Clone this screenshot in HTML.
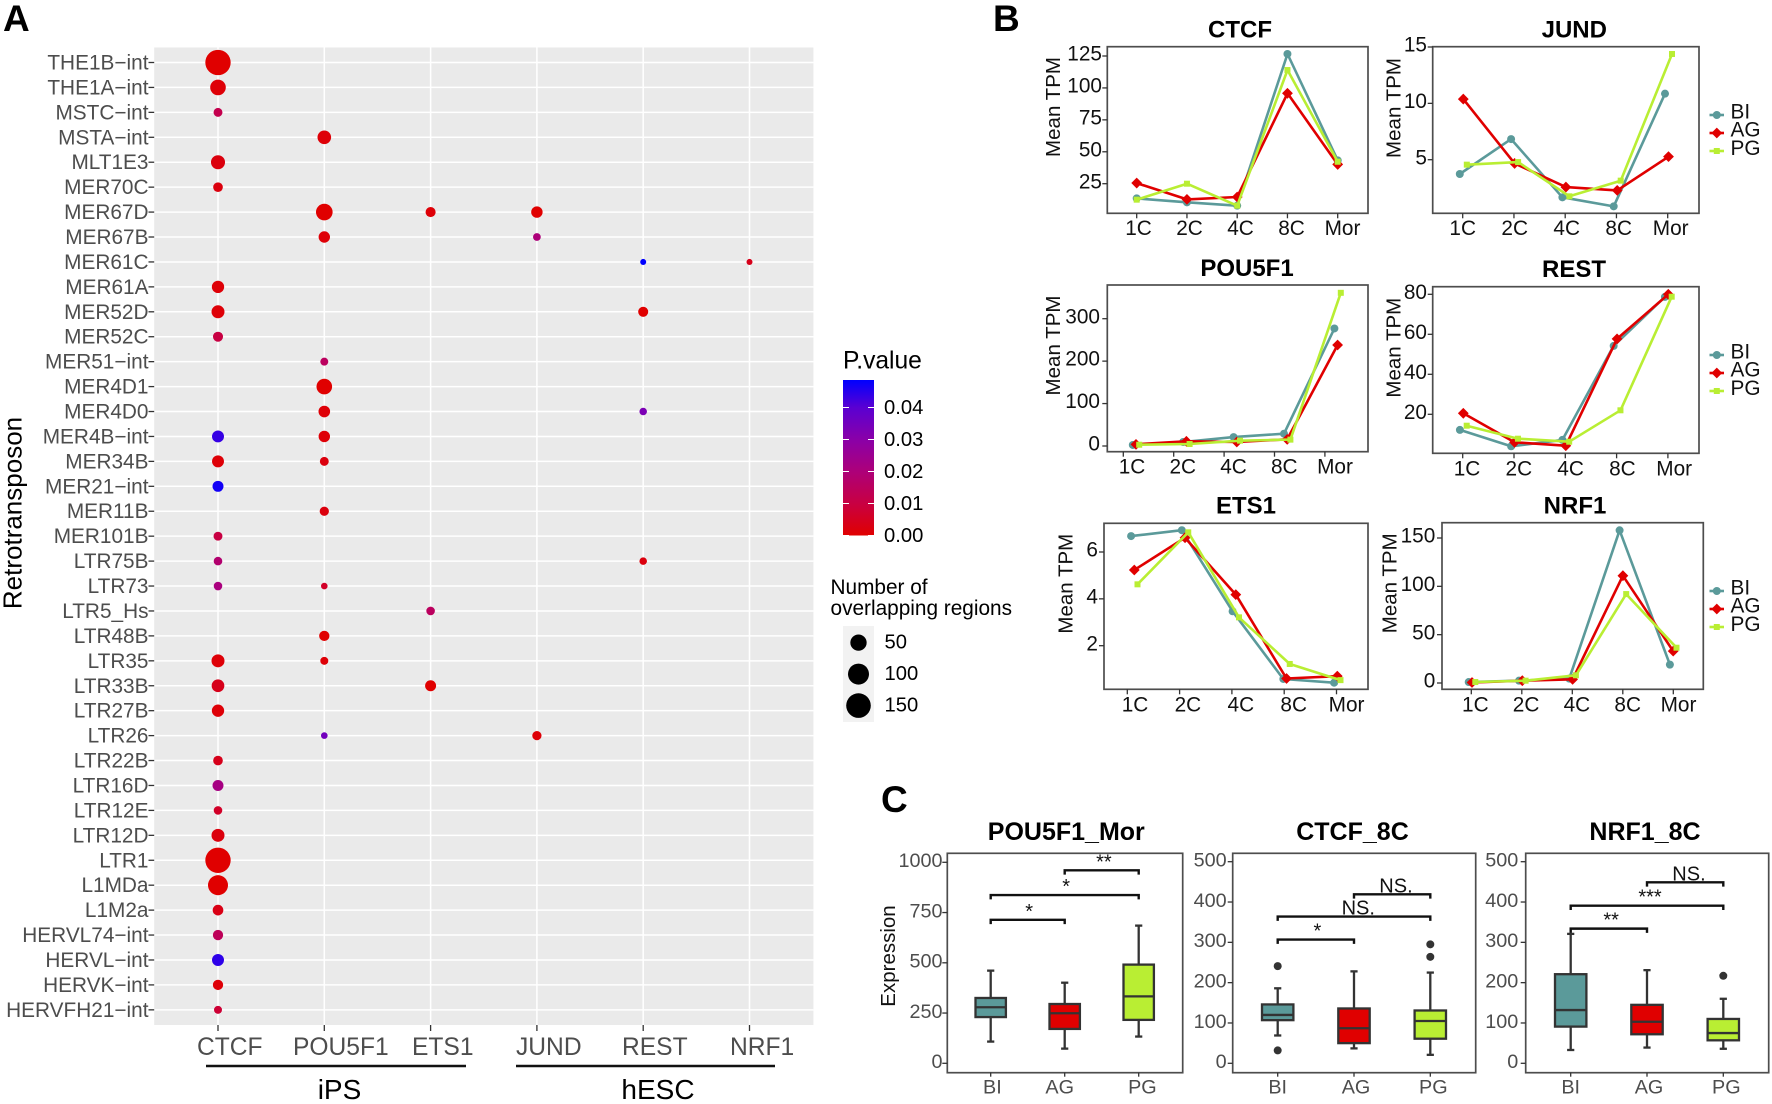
<!DOCTYPE html>
<html lang="en">
<head>
<meta charset="utf-8">
<title>Retrotransposon TF enrichment and expression</title>
<style>
html,body{margin:0;padding:0;background:#fff;}
svg{display:block;font-family:"Liberation Sans",sans-serif;filter:blur(0.35px);}
</style>
</head>
<body>
<svg id="fig" xmlns="http://www.w3.org/2000/svg" width="1772" height="1104" viewBox="0 0 1772 1104">
  <defs>
    <linearGradient id="pGrad" x1="0" y1="1" x2="0" y2="0"></linearGradient>
  </defs>
  <rect x="0" y="0" width="1772" height="1104" fill="#fff"/>
  <text x="3" y="31" font-size="37" font-weight="700" fill="#000">A</text>
  <text x="993" y="31" font-size="37" font-weight="700" fill="#000">B</text>
  <text x="881" y="812" font-size="37" font-weight="700" fill="#000">C</text>
</svg>
<script>
/* ---------- Panel A data ---------- */
const rowLabels = ['THE1B\u2212int','THE1A\u2212int','MSTC\u2212int','MSTA\u2212int','MLT1E3','MER70C','MER67D','MER67B','MER61C','MER61A','MER52D','MER52C','MER51\u2212int','MER4D1','MER4D0','MER4B\u2212int','MER34B','MER21\u2212int','MER11B','MER101B','LTR75B','LTR73','LTR5_Hs','LTR48B','LTR35','LTR33B','LTR27B','LTR26','LTR22B','LTR16D','LTR12E','LTR12D','LTR1','L1MDa','L1M2a','HERVL74\u2212int','HERVL\u2212int','HERVK\u2212int','HERVFH21\u2212int'];
const tfLabels = ['CTCF','POU5F1','ETS1','JUND','REST','NRF1'];
const sizeLegendValues = [50,100,150];
const pTickValues = [0,0.01,0.02,0.03,0.04];
const pTickLabels = ['0.00','0.01','0.02','0.03','0.04'];

const ctcfRows = ['THE1B\u2212int','THE1A\u2212int','MSTC\u2212int','MLT1E3','MER70C','MER61A','MER52D','MER52C','MER4B\u2212int','MER34B','MER21\u2212int','MER101B','LTR75B','LTR73','LTR35','LTR33B','LTR27B','LTR22B','LTR16D','LTR12E','LTR12D','LTR1','L1MDa','L1M2a','HERVL74\u2212int','HERVL\u2212int','HERVK\u2212int','HERVFH21\u2212int'];
const ctcfCounts = [162,44,6,32,8.5,21,25,10,19,19,14,6,5,5,25,23,21,8.5,14,5,25,162,88,12.5,11,19,11,3.5];
const ctcfP = [0,0.001,0.012,0.002,0.002,0.001,0.001,0.01,0.044,0.001,0.048,0.01,0.018,0.021,0.001,0.004,0.001,0.004,0.022,0.006,0.002,0,0,0.003,0.014,0.045,0.001,0.008];

const pouRows = ['MSTA\u2212int','MER67D','MER67B','MER51\u2212int','MER4D1','MER4D0','MER4B\u2212int','MER34B','MER11B','LTR73','LTR48B','LTR35','LTR26'];
const pouCounts = [29,53,16,3.5,44,17,16,6,7,1,11,3.5,1];
const pouP = [0.001,0,0.001,0.015,0,0.001,0.001,0.002,0.002,0.006,0,0.001,0.035];

const etsRows = ['MER67D','LTR5_Hs','LTR33B'];
const etsCounts = [10,5,14];
const etsP = [0.001,0.015,0];

const jundRows = ['MER67D','MER67B','LTR26'];
const jundCounts = [16,3,7];
const jundP = [0,0.02,0.001];

const restRows = ['MER61C','MER52D','MER4D0','LTR75B'];
const restCounts = [0.4,10,2.5,2.5];
const restP = [0.05,0,0.033,0.002];

const nrfRows = ['MER61C'];
const nrfCounts = [0.4];
const nrfP = [0.004];

/* ---------- Panel B data ---------- */
const stages = ['1C','2C','4C','8C','Mor'];
const lineSeriesNames = ['BI','AG','PG'];

const ctcfTicks = [25,50,75,100,125];
const ctcfBI = [13.5,10.4,7.8,126.6,43.3];
const ctcfAG = [25.5,12.7,14.6,95.8,40.1];
const ctcfPG = [12.5,25,7.8,114,42.2];

const jundTicks = [5,10,15];
const jundBI = [3.73,6.83,1.66,0.86,10.86];
const jundAG = [10.38,4.67,2.57,2.28,5.27];
const jundPG = [4.56,4.79,1.75,3.14,14.38];

const pouTicks = [0,100,200,300];
const pouBI = [2.4,9.4,21,29,277];
const pouAG = [3.9,11,9.4,15.7,238];
const pouPG = [3,4.7,12.6,15,361];

const restTicks = [20,40,60,80];
const restBI = [12.2,4,7.2,54.2,78.7];
const restAG = [20.5,6,4.3,57.7,80];
const restPG = [14.3,7.8,6.3,22,78.8];

const etsTicks = [2,4,6];
const etsBI = [6.68,6.93,3.47,0.58,0.42];
const etsAG = [5.23,6.61,4.18,0.6,0.7];
const etsPG = [4.62,6.84,3.21,1.22,0.53];

const nrfTicks = [0,50,100,150];
const nrfBI = [1,2.4,4.5,158,19];
const nrfAG = [0.5,2.4,3.8,111,33];
const nrfPG = [1,2.4,8,92,36.5];

/* ---------- Panel C data ---------- */
const boxGroups = ['BI','AG','PG'];
const pouExprTicks = [0,250,500,750,1000];
const otherExprTicks = [0,100,200,300,400,500];

const pouMorBI = [108,230,279,325,461];
const pouMorAG = [73,171,249,295,401];
const pouMorPG = [133,216,333,491,685];
const pouMorOutliers = [[],[],[]];
const pouMorSig = [[0,1,714,'*',0.52],[0,2,837,'*',1.02],[1,2,960,'**',1.53]];

const ctcf8BI = [69,107,120,146,186];
const ctcf8AG = [37,50,87,136,228];
const ctcf8PG = [21,61,105,131,225];
const ctcf8Outliers = [[241,32],[],[295,264]];
const ctcf8Sig = [[0,1,307,'*',0.52],[0,2,364,'NS.',1.056],[1,2,419,'NS.',1.55]];

const nrf8BI = [33,91,132,221,321];
const nrf8AG = [39,72,103,145,231];
const nrf8PG = [36,57,75,110,160];
const nrf8Outliers = [[],[],[217]];
const nrf8Sig = [[0,1,334,'**',0.53],[0,2,391,'***',1.04],[1,2,449,'NS.',1.55]];

/* ---------- helpers ---------- */
const svg = document.getElementById('fig');
const NS = 'http://www.w3.org/2000/svg';
function el(tag, attrs, parent){
  const n = document.createElementNS(NS, tag);
  for (const k in attrs) n.setAttribute(k, attrs[k]);
  parent.appendChild(n);
  return n;
}
function txt(str, attrs, parent){
  const n = el('text', attrs, parent);
  n.textContent = str;
  return n;
}
function slug(s){ return String(s).toLowerCase().replace(/[^a-z0-9]+/g,'-').replace(/^-|-$/g,''); }

const GRAY = '#4d4d4d', DARK = '#333333';
const seriesColor = {BI:'#5b9a9a', AG:'#e00000', PG:'#b9ee33'};

/* ---------- colour scale ---------- */
const pStopColors = ['#e00000','#c80042','#ad0079','#8a00a8','#5a00d2','#0000ff'];
function hex(c){ return [1,3,5].map(i => parseInt(c.substr(i,2),16)); }
function pColor(p){
  const t = Math.min(0.9999, Math.max(0, p/0.05)) * (pStopColors.length-1);
  const i = Math.floor(t), f = t-i;
  const a = hex(pStopColors[i]), b = hex(pStopColors[i+1]);
  return 'rgb(' + a.map((v,j)=>Math.round(v+(b[j]-v)*f)).join(',') + ')';
}
pStopColors.forEach((c,i)=>{
  el('stop',{offset:(i/(pStopColors.length-1)*0.05/0.0486),'stop-color':c},document.getElementById('pGrad'));
});

/* ---------- Panel A ---------- */
const dotX = i => 218 + i*106.3;
const dotY = i => 62.5 + i*24.93;
const dotR = n => 2.5 + 0.8*Math.sqrt(n);

const gA = el('g',{},svg);



const bgA = el('rect',{x:154.2,y:47.5,width:659.2,height:977.5,fill:'#eaeaea'},gA);



rowLabels.forEach((lab,i)=>{
  const y = dotY(i);
  const g = el('line',{x1:154.2,x2:813.4,y1:y,y2:y,stroke:'#fff','stroke-width':1.5},gA);
  
  
  const t = el('line',{x1:148.5,x2:154.2,y1:y,y2:y,stroke:DARK,'stroke-width':1.3},gA);
  
  
  const l = txt(lab,{x:148.5,y:y+7,'text-anchor':'end','font-size':20.8,fill:GRAY},gA);
  
  
});
const tfLabelStart = [197,293,412,516,622,730];
tfLabels.forEach((lab,i)=>{
  const x = dotX(i);
  const g = el('line',{x1:x,x2:x,y1:47.5,y2:1025,stroke:'#fff','stroke-width':1.5},gA);
  
  
  const t = el('line',{x1:x,x2:x,y1:1025,y2:1031,stroke:DARK,'stroke-width':1.3},gA);
  
  
  const l = txt(lab,{x:tfLabelStart[i],y:1055,'font-size':24.6,fill:GRAY},gA);
  
  
});
function drawDots(tf, rows, counts, ps){
  rows.forEach((r,i)=>{
    const c = el('circle',{cx:dotX(tfLabels.indexOf(tf)),cy:dotY(rowLabels.indexOf(r)),r:dotR(counts[i]),fill:pColor(ps[i])},gA);
    
    
  });
}
drawDots('CTCF',ctcfRows,ctcfCounts,ctcfP);
drawDots('POU5F1',pouRows,pouCounts,pouP);
drawDots('ETS1',etsRows,etsCounts,etsP);
drawDots('JUND',jundRows,jundCounts,jundP);
drawDots('REST',restRows,restCounts,restP);
drawDots('NRF1',nrfRows,nrfCounts,nrfP);

const yTitleA = txt('Retrotransposon',{transform:'translate(21.5,513) rotate(-90)','text-anchor':'middle','font-size':26,fill:'#000'},gA);



const lineIps = el('line',{x1:206,x2:466,y1:1066,y2:1066,stroke:'#111','stroke-width':2.4},gA);


const lineEsc = el('line',{x1:516,x2:775,y1:1066,y2:1066,stroke:'#111','stroke-width':2.4},gA);


const labIps = txt('iPS',{x:339.5,y:1099,'text-anchor':'middle','font-size':28,fill:'#000'},gA);


const labEsc = txt('hESC',{x:658,y:1099,'text-anchor':'middle','font-size':28,fill:'#000'},gA);



/* colour legend */
const pY = v => 535.5 - v/0.04*128;
const gP = el('g',{},svg);


const pTitle = txt('P.value',{x:843,y:368.5,'font-size':24.6,fill:'#000'},gP);


const pBar = el('rect',{x:843,y:380,width:31,height:155.5,fill:'url(#pGrad)'},gP);


pTickValues.forEach((v,i)=>{
  const y = pY(v);
  [[843,849],[868,874]].forEach(s=>{
    const t = el('line',{x1:s[0],x2:s[1],y1:y,y2:y,stroke:'#fff','stroke-width':1},gP);
    
    
  });
  const l = txt(pTickLabels[i],{x:884,y:y+6.5,'font-size':20.2,fill:'#000'},gP);
  
  
});

/* size legend */
const gS = el('g',{},svg);


const sT1 = txt('Number of',{x:830.5,y:594,'font-size':20.8,fill:'#000'},gS);


const sT2 = txt('overlapping regions',{x:830.5,y:615,'font-size':20.8,fill:'#000'},gS);


const sBg = el('rect',{x:843,y:626,width:31,height:96,fill:'#f2f2f2'},gS);


sizeLegendValues.forEach((v,i)=>{
  const y = 642.6 + i*31.5;
  const c = el('circle',{cx:858.5,cy:y,r:dotR(v),fill:'#000'},gS);
  
  
  const l = txt(String(v),{x:884.5,y:y+6,'font-size':20.2,fill:'#000'},gS);
  
  
});

/* ---------- Panel B ---------- */
const lineLayouts = [
 {id:'ctcf',title:'CTCF',ticks:ctcfTicks,bi:ctcfBI,ag:ctcfAG,pg:ctcfPG,box:[1107.3,46.7,1368,213.3],ref:[25,183.7,125,56],tick0:1136.7,tickStep:50.25,pt0:1136.7,ptStep:50.25,dodge:0,lab0:1138.5,labStep:51,labBase:235,right:1102,titleX:1240,titleY:37.3,yTitleX:1060,yTitleY:107},
 {id:'jund',title:'JUND',ticks:jundTicks,bi:jundBI,ag:jundAG,pg:jundPG,box:[1432.7,46.7,1699,213.3],ref:[5,159.7,15,47],tick0:1462.7,tickStep:51.25,pt0:1463.3,ptStep:51.3,dodge:3.5,lab0:1462.7,labStep:52,labBase:235,right:1427,titleX:1574.3,titleY:37.3,yTitleX:1400.3,yTitleY:108,legend:115},
 {id:'pou5f1',title:'POU5F1',ticks:pouTicks,bi:pouBI,ag:pouAG,pg:pouPG,box:[1107.3,285,1368,451.7],ref:[0,446,300,318.7],tick0:1123.3,tickStep:50.4,pt0:1136,ptStep:50.4,dodge:3.2,lab0:1132,labStep:50.75,labBase:473.3,right:1100,titleX:1247,titleY:276,yTitleX:1060,yTitleY:345.5},
 {id:'rest',title:'REST',ticks:restTicks,bi:restBI,ag:restAG,pg:restPG,box:[1432.7,286.7,1699,453.3],ref:[20,414.3,80,294.3],tick0:1462.7,tickStep:51.3,pt0:1463.3,ptStep:51.25,dodge:3.4,lab0:1467,labStep:51.8,labBase:475.5,right:1427,titleX:1574,titleY:277,yTitleX:1400.3,yTitleY:347.7,legend:355},
 {id:'ets1',title:'ETS1',ticks:etsTicks,bi:etsBI,ag:etsAG,pg:etsPG,box:[1104,523.3,1368,689.3],ref:[2,645.7,6,552],tick0:1127.3,tickStep:52.3,pt0:1134.3,ptStep:50.75,dodge:3.2,lab0:1135,labStep:52.9,labBase:711.7,right:1098,titleX:1246,titleY:513.3,yTitleX:1072.7,yTitleY:583.7},
 {id:'nrf1',title:'NRF1',ticks:nrfTicks,bi:nrfBI,ag:nrfAG,pg:nrfPG,box:[1442,522.7,1703.3,689.3],ref:[0,683,150,538],tick0:1471.3,tickStep:50.5,pt0:1472,ptStep:50.3,dodge:3.3,lab0:1475.3,labStep:50.8,labBase:711.7,right:1435.3,titleX:1575,titleY:513.3,yTitleX:1396.3,yTitleY:583.3,legend:591}
];
function drawMarker(name,x,y,parent){
  let m;
  if (name==='BI') m = el('circle',{cx:x,cy:y,r:4,fill:seriesColor.BI},parent);
  else if (name==='AG') m = el('polygon',{points:[[x,y-5.4],[x+5.4,y],[x,y+5.4],[x-5.4,y]].join(' '),fill:seriesColor.AG},parent);
  else m = el('rect',{x:x-3,y:y-3,width:6,height:6,fill:seriesColor.PG},parent);
  return m;
}
lineLayouts.forEach(p=>{
  const g = el('g',{},svg);
  
  
  const [x0,y0,x1,y1] = p.box;
  const yS = v => p.ref[1] + (v-p.ref[0])*(p.ref[3]-p.ref[1])/(p.ref[2]-p.ref[0]);
  const tX = i => p.tick0 + i*p.tickStep;
  const frame = el('rect',{x:x0,y:y0,width:x1-x0,height:y1-y0,fill:'#fff',stroke:GRAY,'stroke-width':1.7},g);
  
  
  const title = txt(p.title,{x:p.titleX,y:p.titleY,'text-anchor':'middle','font-size':24,'font-weight':700,fill:'#000'},g);
  
  
  const yt = txt('Mean TPM',{transform:'translate('+p.yTitleX+','+p.yTitleY+') rotate(-90)','text-anchor':'middle','font-size':20.5,fill:'#111'},g);
  
  
  p.ticks.forEach(v=>{
    const y = yS(v);
    const t = el('line',{x1:x0-5,x2:x0,y1:y,y2:y,stroke:DARK,'stroke-width':1.3},g);
    
    
    const l = txt(String(v),{x:p.right,y:y+4.6,'text-anchor':'end','font-size':20.8,fill:'#111'},g);
    
    
  });
  stages.forEach((s,i)=>{
    const x = tX(i);
    const t = el('line',{x1:x,x2:x,y1:y1,y2:y1+5,stroke:DARK,'stroke-width':1.3},g);
    
    
    const l = txt(s,{x:p.lab0+i*p.labStep,y:p.labBase,'text-anchor':'middle','font-size':20.8,fill:'#111'},g);
    
    
  });
  [['BI',p.bi,-1],['AG',p.ag,0],['PG',p.pg,1]].forEach(([name,vals,d])=>{
    const pX = i => p.pt0 + i*p.ptStep + d*p.dodge;
    const path = vals.map((v,i)=>pX(i).toFixed(1)+','+yS(v).toFixed(1)).join(' ');
    const ln = el('polyline',{points:path,fill:'none',stroke:seriesColor[name],'stroke-width':2.6,'stroke-linejoin':'round'},g);
    
    
    vals.forEach((v,i)=>{
      const m = drawMarker(name,pX(i),yS(v),g);
      
      
    });
  });
  if (p.legend){
    lineSeriesNames.forEach((name,i)=>{
      const y = p.legend + i*18;
      const ln = el('line',{x1:1709.5,x2:1724,y1:y,y2:y,stroke:seriesColor[name],'stroke-width':2.6},g);
      
      
      const m = drawMarker(name,1716.8,y,g);
      
      
      const l = txt(name,{x:1730.5,y:y+3.6+i*0.1,'font-size':20.8,fill:'#111'},g);
      
      
    });
  }
});

/* ---------- Panel C ---------- */
const boxLayouts = [
 {id:'pou5f1-mor',title:'POU5F1_Mor',ticks:pouExprTicks,series:[pouMorBI,pouMorAG,pouMorPG],outliers:pouMorOutliers,sig:pouMorSig,box:[947.3,853.3,1182.7,1072.7],y0:1063.3,yMax:1000,yMaxPx:862.3,catX0:990.7,catStep:74,right:942.5,titleX:1066.3,bw:30.4,labShift:[1.7,-5,3.7],yTitle:true},
 {id:'ctcf-8c',title:'CTCF_8C',ticks:otherExprTicks,series:[ctcf8BI,ctcf8AG,ctcf8PG],outliers:ctcf8Outliers,sig:ctcf8Sig,box:[1232.7,853.3,1475.7,1072.7],y0:1063.3,yMax:500,yMaxPx:861.7,catX0:1277.7,catStep:76.3,right:1226.7,titleX:1352.5,bw:31.4,labShift:[0,2,3]},
 {id:'nrf1-8c',title:'NRF1_8C',ticks:otherExprTicks,series:[nrf8BI,nrf8AG,nrf8PG],outliers:nrf8Outliers,sig:nrf8Sig,box:[1525.7,853.3,1768.7,1072.7],y0:1063.3,yMax:500,yMaxPx:861.7,catX0:1570.7,catStep:76.3,right:1518.3,titleX:1645,bw:31.4,labShift:[0,2,3]}
];
boxLayouts.forEach(p=>{
  const g = el('g',{},svg);
  
  
  const [x0,y0,x1,y1] = p.box;
  const yS = v => p.y0 + v*(p.yMaxPx-p.y0)/p.yMax;
  const xS = i => p.catX0 + i*p.catStep;
  const frame = el('rect',{x:x0,y:y0,width:x1-x0,height:y1-y0,fill:'#fff',stroke:GRAY,'stroke-width':1.7},g);
  
  
  const title = txt(p.title,{x:p.titleX,y:840,'text-anchor':'middle','font-size':25,'font-weight':700,fill:'#000'},g);
  
  
  if (p.yTitle){
    const yt = txt('Expression',{transform:'translate(895,956) rotate(-90)','text-anchor':'middle','font-size':20.5,fill:'#111'},g);
    
    
  }
  p.ticks.forEach(v=>{
    const y = yS(v);
    const t = el('line',{x1:x0-5,x2:x0,y1:y,y2:y,stroke:DARK,'stroke-width':1.3},g);
    
    
    const l = txt(String(v),{x:p.right,y:y+4.8,'text-anchor':'end','font-size':19.8,fill:GRAY},g);
    
    
  });
  boxGroups.forEach((name,i)=>{
    const x = xS(i);
    const t = el('line',{x1:x,x2:x,y1:y1,y2:y1+4,stroke:DARK,'stroke-width':1.3},g);
    
    
    const l = txt(name,{x:x+p.labShift[i],y:1093.3,'text-anchor':'middle','font-size':19.8,fill:GRAY},g);
    
    
    const s = p.series[i];
    const wh = el('line',{x1:x,x2:x,y1:yS(s[0]),y2:yS(s[4]),stroke:DARK,'stroke-width':2.3},g);
    
    
    [s[0],s[4]].forEach(v=>{
      const c = el('line',{x1:x-3.6,x2:x+3.6,y1:yS(v),y2:yS(v),stroke:DARK,'stroke-width':2.3},g);
      
      
    });
    const b = el('rect',{x:x-p.bw/2,y:yS(s[3]),width:p.bw,height:yS(s[1])-yS(s[3]),fill:seriesColor[name],stroke:DARK,'stroke-width':2.3},g);
    
    
    const m = el('line',{x1:x-p.bw/2,x2:x+p.bw/2,y1:yS(s[2]),y2:yS(s[2]),stroke:DARK,'stroke-width':2.3},g);
    
    
    p.outliers[i].forEach(v=>{
      const o = el('circle',{cx:x,cy:yS(v),r:4,fill:DARK},g);
      
      
    });
  });
  p.sig.forEach(b=>{
    const y = yS(b[2]), xa = xS(b[0]), xb = xS(b[1]);
    const br = el('polyline',{points:xa+','+(y+4.3)+' '+xa+','+y+' '+xb+','+y+' '+xb+','+(y+4.3),fill:'none',stroke:'#111','stroke-width':2.4},g);
    
    
    const l = txt(b[3],{x:p.catX0+b[4]*p.catStep,y:y-2,'text-anchor':'middle','font-size':b[3]==='NS.'?20:20,fill:'#111'},g);
    
    
  });
});
</script>
</body>
</html>
